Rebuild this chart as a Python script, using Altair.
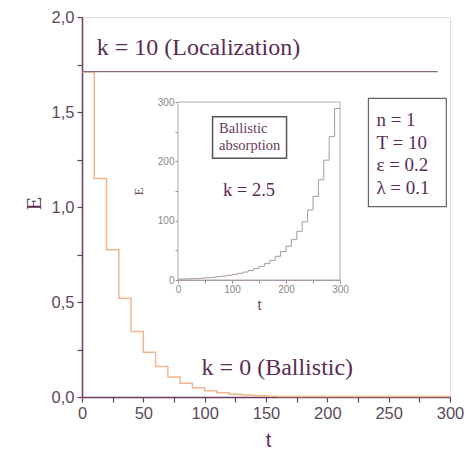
import altair as alt
import pandas as pd

# ---- data ----
# main panel: k = 0 (Ballistic), step curve, T = 10
ball_t = [0, 10, 20, 30, 40, 50, 60, 70, 80, 90, 100, 110, 120, 130, 140, 150, 160, 300]
ball_E = [1.71, 1.15, 0.775, 0.52, 0.345, 0.235, 0.16, 0.105, 0.072, 0.049, 0.033, 0.022,
          0.015, 0.010, 0.006, 0.004, 0.002, 0.002]
# k = 10 (Localization): constant level
loc_t = [0, 290]
loc_E = [1.712, 1.712]

# inset: k = 2.5 (Ballistic absorption)
ins_t = [0, 10, 20, 30, 40, 50, 60, 70, 80, 90, 100, 110, 120, 130, 140, 150, 160, 170,
         180, 190, 200, 210, 220, 230, 240, 250, 260, 270, 280, 290, 300]
ins_E = [1.5, 1.8, 2.2, 2.6, 3.1, 3.8, 4.5, 5.4, 6.5, 7.8, 9.3, 11.2, 13.4, 16, 19.3, 23,
         27.7, 33, 40, 48, 57, 68, 82, 98, 118, 141, 169, 202, 242, 289, 289]

# annotations
main_labels = ["k = 10 (Localization)", "k = 0 (Ballistic)"]
main_label_t = [12, 97.5]
main_label_E = [1.838, 0.152]

param_lines = ["n = 1", "T = 10", "ε = 0.2", "λ = 0.1"]
param_t = [240, 240, 240, 240]
param_E = [1.456, 1.335, 1.220, 1.099]
param_box = {"t": [233.5], "t2": [297], "E": [1.002], "E2": [1.572]}

inset_label = ["k = 2.5"]
inset_label_t = [131.5]
inset_label_E = [151.7]
abs_lines = ["Ballistic", "absorption"]
abs_t = [76, 76]
abs_E = [254.5, 225.8]
abs_box = {"ti": [64], "ti2": [201], "Ei": [205], "Ei2": [275]}
inset_frame = {"ti": [0], "ti2": [300], "Ei": [0], "Ei2": [300]}

# ---- styling ----
PLUM = "#5b2d55"
AXIS = "#6a3d62"
SERIF = "Liberation Serif"
SANS = "Liberation Sans"

W, H = 368, 380

X = alt.X("t:Q", scale=alt.Scale(domain=[0, 300], nice=False),
          axis=alt.Axis(values=list(range(0, 301, 25)),
                        labelExpr="datum.value % 50 == 0 ? datum.label : ''",
                        labelFlush=False,
                        title="t", titleFont=SANS, titleFontSize=20, titleFontWeight="normal",
                        titleColor=PLUM, titleX=186, titleY=43,
                        titleAlign="center", titleBaseline="middle",
                        labelFont=SANS, labelFontSize=16.5, labelColor="#5c4a5c",
                        labelPadding=3, tickSize=5, tickColor=AXIS, domainColor=AXIS,
                        domainWidth=1.5, tickWidth=1.2, grid=False))
Y = alt.Y("E:Q", scale=alt.Scale(domain=[0, 2], nice=False),
          axis=alt.Axis(values=[0, 0.25, 0.5, 0.75, 1, 1.25, 1.5, 1.75, 2],
                        labelExpr="datum.value % 0.5 == 0 ? replace(format(datum.value, '.1f'), '.', ',') : ''",
                        labelFlush=False,
                        title="E", titleFont=SERIF, titleFontSize=22, titleFontWeight="normal",
                        titleColor=PLUM, titleX=-49, titleY=186, titleAngle=270,
                        titleAlign="center", titleBaseline="middle",
                        labelFont=SANS, labelFontSize=16.5, labelColor="#5c4a5c",
                        labelPadding=3, tickSize=5, tickColor=AXIS, domainColor=AXIS,
                        domainWidth=1.5, tickWidth=1.2, grid=False))
X2 = alt.X2("t2:Q")
Y2 = alt.Y2("E2:Q")

XI = alt.X("ti:Q", scale=alt.Scale(domain=[0, 300], nice=False, range=[96, 258]),
           axis=alt.Axis(orient="bottom", offset=-117, values=[0, 50, 100, 150, 200, 250, 300],
                         labelExpr="datum.value % 100 == 0 ? datum.label : ''",
                         labelFlush=False,
                         title="t", titleFont=SANS, titleFontSize=14, titleFontWeight="normal",
                         titleColor="#6a4a66", titlePadding=4,
                         labelFont=SANS, labelFontSize=10, labelColor="#888888",
                         labelPadding=1, tickSize=3, tickColor="#9a8a9a",
                         domainColor="#9a8a9a", grid=False))
YI = alt.Y("Ei:Q", scale=alt.Scale(domain=[0, 300], nice=False, range=[263, 85]),
           axis=alt.Axis(orient="left", offset=-96, values=[0, 50, 100, 150, 200, 250, 300],
                         labelExpr="datum.value % 100 == 0 ? datum.label : ''",
                         labelFlush=False,
                         title="E", titleFont=SERIF, titleFontSize=13, titleFontWeight="normal",
                         titleColor="#6a4a66", titleX=-40, titleAngle=270,
                         titleAlign="center", titleBaseline="middle",
                         labelFont=SANS, labelFontSize=10, labelColor="#888888",
                         labelPadding=1, tickSize=3, tickColor="#9a8a9a",
                         domainColor="#9a8a9a", grid=False))
XI2 = alt.X2("ti2:Q")
YI2 = alt.Y2("Ei2:Q")

# ---- main layers ----
ball = alt.Chart(pd.DataFrame({"t": ball_t, "E": ball_E})).mark_line(
    interpolate="step-after", color="#f2b68c", strokeWidth=1.5).encode(x=X, y=Y)
loc = alt.Chart(pd.DataFrame({"t": loc_t, "E": loc_E})).mark_line(
    color="#8a6a82", strokeWidth=1.2).encode(x=X, y=Y)
mtext = alt.Chart(pd.DataFrame({"t": main_label_t, "E": main_label_E, "s": main_labels})).mark_text(
    align="left", baseline="middle", font=SERIF, fontSize=24, color=PLUM).encode(x=X, y=Y, text="s:N")
pbox = alt.Chart(pd.DataFrame(param_box)).mark_rect(
    fill="white", stroke="#666666", strokeWidth=1.2).encode(x=X, x2=X2, y=Y, y2=Y2)
ptext = alt.Chart(pd.DataFrame({"t": param_t, "E": param_E, "s": param_lines})).mark_text(
    align="left", baseline="middle", font=SERIF, fontSize=19, color=PLUM).encode(x=X, y=Y, text="s:N")

main = alt.layer(ball, loc, mtext, pbox, ptext)

# ---- inset layers ----
frame = alt.Chart(pd.DataFrame(inset_frame)).mark_rect(
    fill="white", stroke="#b8a8b8", strokeWidth=1).encode(x=XI, x2=XI2, y=YI, y2=YI2)
icurve = alt.Chart(pd.DataFrame({"ti": ins_t, "Ei": ins_E})).mark_line(
    interpolate="step-after", color="#a898a8", strokeWidth=1).encode(x=XI, y=YI)
abox = alt.Chart(pd.DataFrame(abs_box)).mark_rect(
    fill="white", stroke="#555555", strokeWidth=1.5).encode(x=XI, x2=XI2, y=YI, y2=YI2)
atext = alt.Chart(pd.DataFrame({"ti": abs_t, "Ei": abs_E, "s": abs_lines})).mark_text(
    align="left", baseline="middle", font=SERIF, fontSize=14.5, color="#6a3a60").encode(x=XI, y=YI, text="s:N")
ktext = alt.Chart(pd.DataFrame({"ti": inset_label_t, "Ei": inset_label_E, "s": inset_label})).mark_text(
    align="center", baseline="middle", font=SERIF, fontSize=18.5, color=PLUM).encode(x=XI, y=YI, text="s:N")

inset = alt.layer(frame, icurve, abox, atext, ktext)

chart = alt.layer(main, inset).resolve_scale(x="independent", y="independent").properties(
    width=W, height=H,
    autosize=alt.AutoSizeParams(type="none"),
    padding={"left": 74, "top": 9, "right": 14, "bottom": 54},
).configure_view(stroke=AXIS, strokeWidth=1.2).configure(background="white")

chart.save("out.html", embed_options={"renderer": "svg", "actions": False})
